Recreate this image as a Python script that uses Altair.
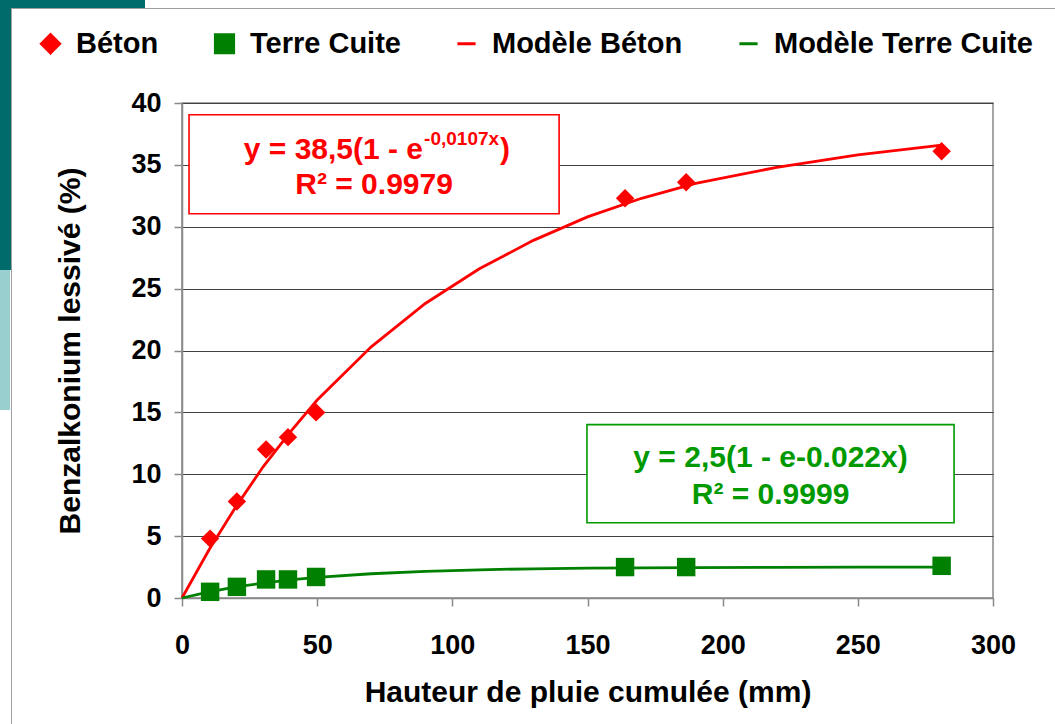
import altair as alt
import pandas as pd

# ---- data ----
x_obs = [10.4, 20.3, 31.1, 39.2, 49.6, 163.9, 186.5, 281.0]
beton = [4.8, 7.8, 12.0, 13.0, 15.0, 32.3, 33.6, 36.1]
terre = [0.5, 0.9, 1.5, 1.5, 1.7, 2.5, 2.5, 2.6]

x_model = [0, 10, 20, 30, 40, 50, 70, 90, 110, 130, 150, 170, 190, 220, 250, 281]
beton_model = [0, 3.9, 7.4, 10.6, 13.4, 16.0, 20.3, 23.8, 26.6, 28.9, 30.8, 32.3, 33.5, 34.8, 35.8, 36.6]
terre_model = [0, 0.49, 0.89, 1.21, 1.46, 1.67, 1.96, 2.15, 2.28, 2.36, 2.41, 2.44, 2.46, 2.48, 2.49, 2.50]

series_names = ["Béton", "Terre Cuite", "Modèle Béton", "Modèle Terre Cuite"]
series_colors = ["#FF0000", "#008000", "#FF0000", "#008000"]
series_shapes = ["diamond", "square", "stroke", "stroke"]

x_ticks = [0, 50, 100, 150, 200, 250, 300]
y_ticks = [0, 5, 10, 15, 20, 25, 30, 35, 40]

# annotation boxes (data units)
box_names = ["red", "green"]
box_x1 = [2.6, 149.8]
box_x2 = [139.5, 285.6]
box_y1 = [39.05, 14.01]
box_y2 = [31.05, 6.08]
box_colors = ["#FF0000", "#009900"]

# annotation text
eq_main = ["y = 38,5(1 - e", "y = 2,5(1 - e-0.022x)"]
eq_sup = "-0,0107x"
eq_r2 = ["R² = 0.9979", "R² = 0.9999"]

FONT = "Liberation Sans"

obs = pd.DataFrame(
    [{"x": x, "y": y, "series": "Béton"} for x, y in zip(x_obs, beton)]
    + [{"x": x, "y": y, "series": "Terre Cuite"} for x, y in zip(x_obs, terre)]
)
model = pd.DataFrame(
    [{"x": x, "y": y, "series": "Modèle Béton"} for x, y in zip(x_model, beton_model)]
    + [{"x": x, "y": y, "series": "Modèle Terre Cuite"} for x, y in zip(x_model, terre_model)]
)
boxes = pd.DataFrame({"name": box_names, "x1": box_x1, "x2": box_x2,
                      "y1": box_y1, "y2": box_y2, "c": box_colors})

xscale = alt.Scale(domain=[0, 300], nice=False, zero=True)
yscale = alt.Scale(domain=[0, 40], nice=False)
color_scale = alt.Scale(domain=series_names, range=series_colors)
shape_scale = alt.Scale(domain=series_names, range=series_shapes)

x_enc = alt.X("x:Q", scale=xscale, axis=alt.Axis(
    values=x_ticks, title="Hauteur de pluie cumulée (mm)", grid=False,
    labelPadding=26, titlePadding=19, labelFlush=False))
y_enc = alt.Y("y:Q", scale=yscale, axis=alt.Axis(
    values=y_ticks, title="Benzalkonium lessivé (%)", grid=True,
    labelPadding=13, titlePadding=45, labelFlush=False))

legend = alt.Legend(
    orient="none", legendX=-146, legendY=-74, direction="horizontal", columns=4,
    title=None, labelFontSize=29, labelFont=FONT, labelFontWeight="bold",
    labelColor="black", symbolSize=330, columnPadding=50, labelOffset=11,
    symbolStrokeWidth=3, labelLimit=500,
)

lines = alt.Chart(model).mark_line(strokeWidth=2.8).encode(
    x=x_enc, y=y_enc,
    color=alt.Color("series:N", scale=color_scale, legend=legend),
    detail="series:N",
)

points = alt.Chart(obs).mark_point(filled=True, size=340, opacity=1).encode(
    x=alt.X("x:Q", scale=xscale), y=alt.Y("y:Q", scale=yscale),
    color=alt.Color("series:N", scale=color_scale, legend=legend),
    shape=alt.Shape("series:N", scale=shape_scale, legend=legend),
)

box_layer = alt.Chart(boxes).mark_rect(fill="white", strokeWidth=1.6).encode(
    x=alt.X("x1:Q", scale=xscale), x2="x2:Q",
    y=alt.Y("y1:Q", scale=yscale), y2="y2:Q",
    stroke=alt.Stroke("c:N", scale=None),
)

red_center_x = (box_x1[0] + box_x2[0]) / 2
green_center_x = (box_x1[1] + box_x2[1]) / 2
txt = pd.DataFrame({"cx": [red_center_x], "y1": [36.2], "y2": [33.4]})
gtxt = pd.DataFrame({"cx": [green_center_x], "y1": [11.3], "y2": [8.3]})

base_txt = dict(font=FONT, fontWeight="bold", baseline="middle")

red1 = alt.Chart(txt).mark_text(align="right", dx=49, fontSize=30, color="#FF0000", **base_txt).encode(
    x=alt.X("cx:Q", scale=xscale), y=alt.Y("y1:Q", scale=yscale), text=alt.value(eq_main[0]))
red_sup = alt.Chart(txt).mark_text(align="left", dx=50, dy=-11, fontSize=19, color="#FF0000", **base_txt).encode(
    x=alt.X("cx:Q", scale=xscale), y=alt.Y("y1:Q", scale=yscale), text=alt.value(eq_sup))
red_par = alt.Chart(txt).mark_text(align="left", dx=126, fontSize=30, color="#FF0000", **base_txt).encode(
    x=alt.X("cx:Q", scale=xscale), y=alt.Y("y1:Q", scale=yscale), text=alt.value(")"))
red2 = alt.Chart(txt).mark_text(align="center", fontSize=30, color="#FF0000", **base_txt).encode(
    x=alt.X("cx:Q", scale=xscale), y=alt.Y("y2:Q", scale=yscale), text=alt.value(eq_r2[0]))

green1 = alt.Chart(gtxt).mark_text(align="center", fontSize=30, color="#009900", **base_txt).encode(
    x=alt.X("cx:Q", scale=xscale), y=alt.Y("y1:Q", scale=yscale), text=alt.value(eq_main[1]))
green2 = alt.Chart(gtxt).mark_text(align="center", fontSize=30, color="#009900", **base_txt).encode(
    x=alt.X("cx:Q", scale=xscale), y=alt.Y("y2:Q", scale=yscale), text=alt.value(eq_r2[1]))

# slide decoration (outside plot)
deco_df = pd.DataFrame({"k": [0]})
def deco(x1, x2, y1, y2, color):
    return alt.Chart(deco_df).mark_rect(color=color).encode(
        x=alt.value(x1), x2=alt.value(x2), y=alt.value(y1), y2=alt.value(y2))

L, T = 182, 103
decos = [
    deco(-L, 11 - L, -T, 270 - T, "#006B6B"),
    deco(-L, 145 - L, -T, 8 - T, "#006B6B"),
    deco(-L, 10 - L, 270 - T, 410 - T, "#9ACFCF"),
    deco(11 - L, 1055 - L, 8 - T, 9 - T, "#A0A0A0"),
    deco(11 - L, 12 - L, 8 - T, 724 - T, "#A0A0A0"),
]

chart = alt.layer(
    *decos, lines, points, box_layer, red1, red_sup, red_par, red2, green1, green2
).properties(
    width=811, height=495,
    padding={"left": 182, "top": 103, "right": 62, "bottom": 126},
    autosize=alt.AutoSizeParams(type="none"),
).resolve_scale(color="shared", shape="shared").configure_view(
    stroke="#888888", strokeWidth=1.5
).configure_axis(
    labelFont=FONT, labelFontWeight="bold", labelFontSize=27, labelColor="black",
    titleFont=FONT, titleFontWeight="bold", titleFontSize=30, titleColor="black",
    domainColor="#888888", domainWidth=1.5, tickColor="#888888", tickSize=8, tickWidth=1.5,
    gridColor="#404040", gridWidth=1.2,
)

chart.save("out.html", embed_options={"renderer": "svg", "actions": False})
